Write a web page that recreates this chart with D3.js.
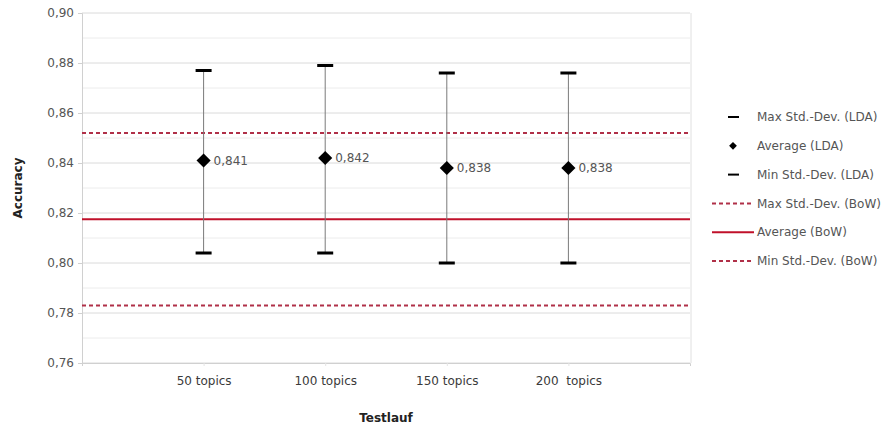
<!DOCTYPE html>
<html>
<head>
<meta charset="utf-8">
<script src="https://cdn.jsdelivr.net/npm/d3@7"></script>
<style>
  html, body { margin: 0; padding: 0; background: #fff; }
  text { font-family: "DejaVu Sans", Verdana, sans-serif; }
</style>
</head>
<body>
<svg id="chart" width="889" height="428"></svg>
<script>
// ---- data ----
const categories = ["50 topics", "100 topics", "150 topics", "200  topics"];
const avgLDA = [0.841, 0.842, 0.838, 0.838];
const maxLDA = [0.877, 0.879, 0.876, 0.876];
const minLDA = [0.804, 0.804, 0.800, 0.800];
const bowAvg = [0.8175];
const bowMax = [0.852];
const bowMin = [0.783];
const yTicks = [0.76, 0.78, 0.80, 0.82, 0.84, 0.86, 0.88, 0.90];
const yMinorTicks = [0.77, 0.79, 0.81, 0.83, 0.85, 0.87, 0.89];
const legendItems = [
  {label: "Max Std.-Dev. (LDA)", type: "cap"},
  {label: "Average (LDA)", type: "diamond"},
  {label: "Min Std.-Dev. (LDA)", type: "cap"},
  {label: "Max Std.-Dev. (BoW)", type: "dash"},
  {label: "Average (BoW)", type: "solid"},
  {label: "Min Std.-Dev. (BoW)", type: "dash"}
];

const fmt = v => d3.format(".3f")(v).replace(".", ",");
const fmtTick = v => d3.format(".2f")(v).replace(".", ",");

const svg = d3.select("#chart");
const pL = 82, pR = 690, pT = 13, pB = 363;
const fs = "12px";

const x = d3.scalePoint().domain(categories).range([pL, pR]).padding(1);
const y = d3.scaleLinear().domain([0.76, 0.90]).range([pB, pT]);

// minor gridlines
svg.append("g").selectAll("line").data(yMinorTicks).join("line")
  .attr("x1", pL).attr("x2", pR)
  .attr("y1", d => y(d)).attr("y2", d => y(d))
  .attr("stroke", "#ececec").attr("stroke-width", 1);
// major gridlines
svg.append("g").selectAll("line").data(yTicks).join("line")
  .attr("x1", pL).attr("x2", pR)
  .attr("y1", d => y(d)).attr("y2", d => y(d))
  .attr("stroke", "#dadada").attr("stroke-width", 1);

// right border
svg.append("line").attr("x1", pR + 1).attr("x2", pR + 1)
  .attr("y1", pT).attr("y2", pB).attr("stroke", "#e0e0e0");

// y axis
const yAxis = svg.append("g").attr("transform", `translate(${pL},0)`)
  .call(d3.axisLeft(y).tickValues(yTicks).tickFormat(fmtTick).tickSize(4).tickPadding(4));
yAxis.select(".domain").attr("stroke", "#d0d0d0");
yAxis.selectAll(".tick line").attr("stroke", "#d0d0d0");
yAxis.selectAll(".tick text").attr("fill", "#555").style("font-size", fs)
  .style("font-family", "'DejaVu Sans', sans-serif");

// x axis
const xAxis = svg.append("g").attr("transform", `translate(0,${pB})`)
  .call(d3.axisBottom(x).tickSize(3).tickPadding(10));
xAxis.select(".domain").attr("stroke", "#d0d0d0");
xAxis.selectAll(".tick line").attr("stroke", "#e4e4e4");
xAxis.selectAll(".tick text").attr("fill", "#3a3a3a").style("font-size", fs)
  .style("white-space", "pre").style("font-family", "'DejaVu Sans', sans-serif");

// axis titles
svg.append("text").attr("x", (pL + pR) / 2).attr("y", 422)
  .attr("text-anchor", "middle").style("font-size", fs).style("font-weight", "bold")
  .attr("fill", "#222").text("Testlauf");
svg.append("text").attr("transform", `translate(22,${(pT + pB) / 2}) rotate(-90)`)
  .attr("text-anchor", "middle").style("font-size", fs).style("font-weight", "bold")
  .attr("fill", "#222").text("Accuracy");

// BoW lines
svg.append("line").attr("x1", pL).attr("x2", pR)
  .attr("y1", y(bowMax[0])).attr("y2", y(bowMax[0]))
  .attr("stroke", "#b03048").attr("stroke-width", 2).attr("stroke-dasharray", "4,3");
svg.append("line").attr("x1", pL).attr("x2", pR)
  .attr("y1", y(bowMin[0])).attr("y2", y(bowMin[0]))
  .attr("stroke", "#b03048").attr("stroke-width", 2).attr("stroke-dasharray", "4,3");
svg.append("line").attr("x1", pL).attr("x2", pR)
  .attr("y1", y(bowAvg[0])).attr("y2", y(bowAvg[0]))
  .attr("stroke", "#c0102a").attr("stroke-width", 2);

// error bars
const idx = d3.range(categories.length);
const g = svg.append("g");
g.selectAll(".whisker").data(idx).join("line")
  .attr("x1", i => x(categories[i])).attr("x2", i => x(categories[i]))
  .attr("y1", i => y(maxLDA[i])).attr("y2", i => y(minLDA[i]))
  .attr("stroke", "#7a7a7a").attr("stroke-width", 1);
g.selectAll(".capTop").data(idx).join("line")
  .attr("x1", i => x(categories[i]) - 8).attr("x2", i => x(categories[i]) + 8)
  .attr("y1", i => y(maxLDA[i])).attr("y2", i => y(maxLDA[i]))
  .attr("stroke", "#000").attr("stroke-width", 3);
g.selectAll(".capBot").data(idx).join("line")
  .attr("x1", i => x(categories[i]) - 8).attr("x2", i => x(categories[i]) + 8)
  .attr("y1", i => y(minLDA[i])).attr("y2", i => y(minLDA[i]))
  .attr("stroke", "#000").attr("stroke-width", 3);
const diamond = d3.symbol().type(d3.symbolSquare).size(100);
g.selectAll(".avg").data(idx).join("path")
  .attr("d", diamond)
  .attr("transform", i => `translate(${x(categories[i])},${y(avgLDA[i])}) rotate(45)`)
  .attr("fill", "#000");
g.selectAll(".lbl").data(idx).join("text")
  .attr("x", i => x(categories[i]) + 10).attr("y", i => y(avgLDA[i]))
  .attr("dy", "0.35em").attr("fill", "#555").style("font-size", fs)
  .text(i => fmt(avgLDA[i]));

// legend
const lg = svg.append("g");
const ly0 = 117, lstep = 28.8;
legendItems.forEach((it, k) => {
  const yy = ly0 + k * lstep;
  if (it.type === "cap") {
    lg.append("line").attr("x1", 728).attr("x2", 739).attr("y1", yy).attr("y2", yy)
      .attr("stroke", "#000").attr("stroke-width", 2);
  } else if (it.type === "diamond") {
    lg.append("path").attr("d", d3.symbol().type(d3.symbolSquare).size(30))
      .attr("transform", `translate(733,${yy}) rotate(45)`).attr("fill", "#000");
  } else if (it.type === "dash") {
    lg.append("line").attr("x1", 712).attr("x2", 752).attr("y1", yy).attr("y2", yy)
      .attr("stroke", "#b03048").attr("stroke-width", 2).attr("stroke-dasharray", "4,3");
  } else {
    lg.append("line").attr("x1", 712).attr("x2", 754).attr("y1", yy).attr("y2", yy)
      .attr("stroke", "#c0102a").attr("stroke-width", 2);
  }
  lg.append("text").attr("x", 757).attr("y", yy).attr("dy", "0.35em")
    .attr("fill", "#555").style("font-size", fs).text(it.label);
});
</script>
</body>
</html>
